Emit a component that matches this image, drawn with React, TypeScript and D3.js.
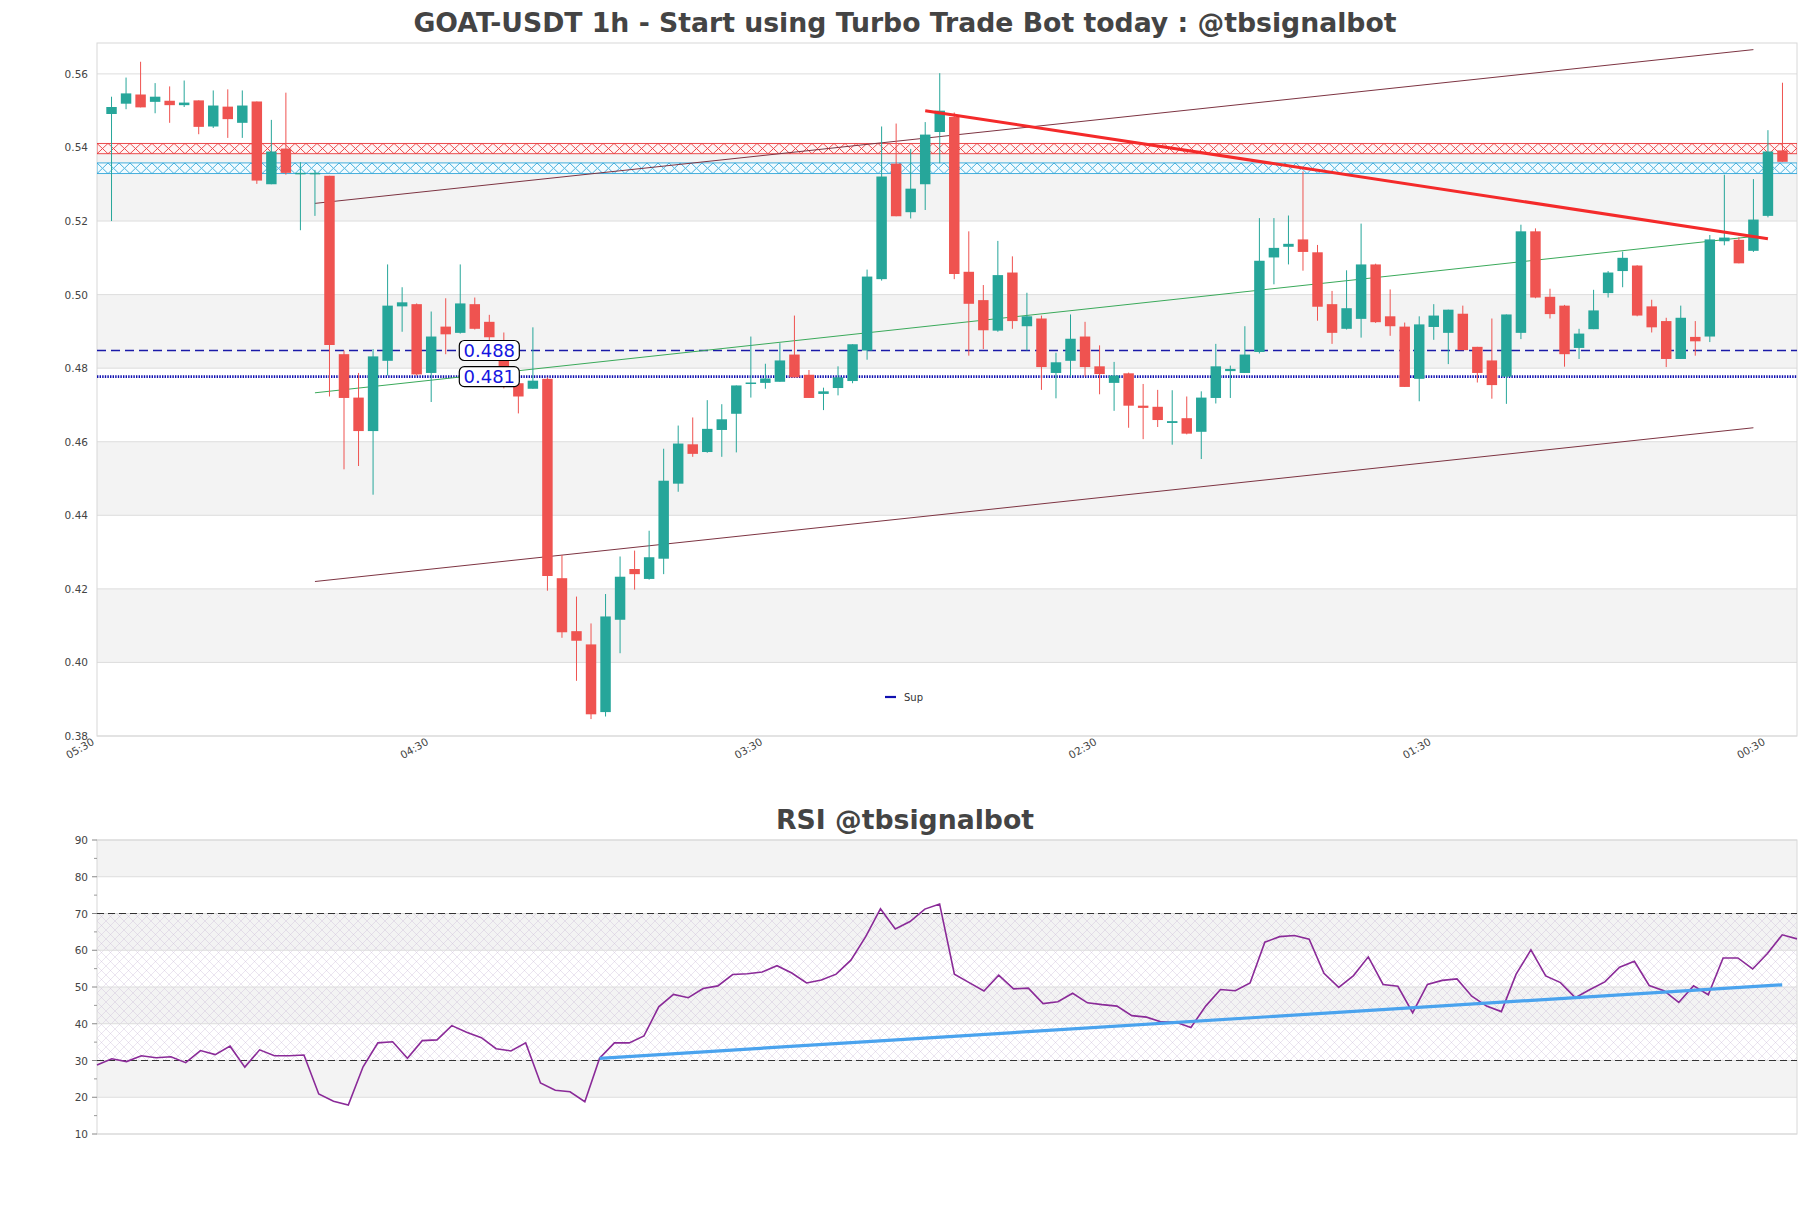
import React from "react";
import * as d3 from "d3";

const W = 1811;
const H = 1208;

const candleOpen = [0.5491,0.5519,0.5544,0.5524,0.5527,0.5515,0.5528,0.5457,0.5511,0.5467,0.5525,0.5300,0.5397,0.5328,0.5329,0.5323,0.4838,0.4720,0.4629,0.4820,0.4968,0.4974,0.4787,0.4913,0.4896,0.4974,0.4926,0.4850,0.4759,0.4744,0.4771,0.4229,0.4085,0.4049,0.3865,0.4116,0.4254,0.4227,0.4282,0.4486,0.4593,0.4572,0.4632,0.4676,0.4757,0.4760,0.4763,0.4837,0.4782,0.4730,0.4746,0.4765,0.4848,0.5042,0.5356,0.5224,0.5300,0.5442,0.5483,0.5062,0.4985,0.4902,0.5060,0.4914,0.4935,0.4787,0.4820,0.4886,0.4805,0.4760,0.4786,0.4698,0.4695,0.4651,0.4664,0.4627,0.4719,0.4792,0.4787,0.4844,0.5101,0.5130,0.5150,0.5115,0.4974,0.4907,0.4934,0.5082,0.4941,0.4913,0.4771,0.4912,0.4896,0.4948,0.4858,0.4821,0.4777,0.4896,0.5172,0.4994,0.4970,0.4855,0.4906,0.5004,0.5064,0.5079,0.4968,0.4928,0.4825,0.4885,0.4886,0.5145,0.5149,0.5119,0.5214,0.5392];
const candleHigh = [0.5538,0.5590,0.5633,0.5575,0.5566,0.5582,0.5528,0.5555,0.5558,0.5555,0.5525,0.5475,0.5549,0.5360,0.5339,0.5323,0.4848,0.4787,0.4852,0.5082,0.5020,0.4976,0.4954,0.4990,0.5082,0.4992,0.4945,0.4897,0.4768,0.4911,0.4775,0.4292,0.4179,0.4106,0.4186,0.4288,0.4304,0.4358,0.4581,0.4644,0.4666,0.4713,0.4702,0.4753,0.4886,0.4812,0.4868,0.4943,0.4795,0.4747,0.4805,0.4865,0.5068,0.5457,0.5465,0.5396,0.5469,0.5602,0.5495,0.5172,0.5026,0.5146,0.5104,0.5005,0.4943,0.4842,0.4946,0.4926,0.4862,0.4817,0.4788,0.4757,0.4741,0.4740,0.4723,0.4737,0.4866,0.4807,0.4914,0.5208,0.5208,0.5215,0.5335,0.5135,0.5010,0.5066,0.5193,0.5084,0.5014,0.4924,0.4941,0.4974,0.4959,0.4970,0.4858,0.4935,0.4946,0.5190,0.5180,0.5016,0.4972,0.4907,0.5013,0.5064,0.5117,0.5080,0.4986,0.4937,0.4970,0.4928,0.5162,0.5326,0.5156,0.5314,0.5447,0.5576];
const candleLow = [0.5200,0.5504,0.5509,0.5493,0.5467,0.5510,0.5436,0.5453,0.5426,0.5426,0.5301,0.5300,0.5326,0.5175,0.5214,0.4723,0.4525,0.4534,0.4456,0.4780,0.4899,0.4780,0.4708,0.4838,0.4894,0.4905,0.4875,0.4745,0.4677,0.4744,0.4195,0.4067,0.3950,0.3846,0.3853,0.4025,0.4198,0.4225,0.4240,0.4464,0.4559,0.4570,0.4559,0.4571,0.4720,0.4744,0.4763,0.4775,0.4719,0.4686,0.4726,0.4759,0.4823,0.5038,0.5213,0.5207,0.5230,0.5357,0.5042,0.4834,0.4852,0.4899,0.4907,0.4848,0.4741,0.4718,0.4777,0.4777,0.4729,0.4684,0.4638,0.4607,0.4640,0.4592,0.4620,0.4553,0.4704,0.4719,0.4787,0.4840,0.5028,0.5082,0.5065,0.4929,0.4866,0.4905,0.4883,0.4923,0.4888,0.4749,0.4710,0.4877,0.4811,0.4849,0.4761,0.4717,0.4703,0.4879,0.4990,0.4935,0.4804,0.4825,0.4906,0.4992,0.5020,0.4941,0.4897,0.4803,0.4825,0.4834,0.4871,0.5134,0.5085,0.5116,0.5210,0.5361];
const candleClose = [0.5510,0.5547,0.5509,0.5538,0.5515,0.5522,0.5456,0.5514,0.5477,0.5514,0.5310,0.5389,0.5331,0.5331,0.5331,0.4863,0.4719,0.4629,0.4832,0.4970,0.4979,0.4783,0.4886,0.4892,0.4976,0.4907,0.4884,0.4750,0.4723,0.4766,0.4235,0.4082,0.4059,0.3859,0.4125,0.4233,0.4240,0.4286,0.4494,0.4595,0.4567,0.4635,0.4661,0.4753,0.4761,0.4772,0.4821,0.4775,0.4719,0.4737,0.4775,0.4865,0.5049,0.5321,0.5213,0.5288,0.5435,0.5500,0.5056,0.4975,0.4903,0.5053,0.4928,0.4941,0.4803,0.4816,0.4880,0.4803,0.4784,0.4780,0.4698,0.4692,0.4659,0.4656,0.4622,0.4720,0.4805,0.4798,0.4837,0.5092,0.5127,0.5138,0.5116,0.4967,0.4896,0.4963,0.5082,0.4925,0.4914,0.4749,0.4919,0.4943,0.4959,0.4849,0.4787,0.4754,0.4946,0.5172,0.4992,0.4947,0.4838,0.4894,0.4957,0.5060,0.5100,0.4943,0.4911,0.4825,0.4937,0.4873,0.5150,0.5155,0.5085,0.5204,0.5389,0.5361];

const rsiValues = [28.75,30.47,29.7,31.3,30.75,31.0,29.4,32.7,31.6,33.9,28.2,32.9,31.3,31.3,31.5,20.9,18.9,17.9,28.3,34.8,35.1,30.6,35.4,35.6,39.5,37.7,36.2,33.2,32.6,34.8,23.9,21.9,21.5,18.8,30.6,34.8,34.8,36.7,44.6,48.0,
47.1,49.6,50.3,53.4,53.6,54.1,55.8,53.8,51.1,51.9,53.5,57.3,63.7,71.3,65.8,67.8,71.2,72.6,53.5,51.2,48.9,53.2,49.5,49.7,45.5,46.0,48.3,45.7,45.2,44.8,42.2,41.8,40.5,40.4,39.0,44.8,49.3,49.0,51.1,
62.2,63.7,64.0,63.0,53.7,49.9,53.1,58.2,50.7,50.2,43.0,50.7,51.8,52.2,47.5,44.8,43.3,53.5,60.1,53.0,51.2,47.1,49.3,51.4,55.4,57.0,50.4,49.0,45.8,50.3,47.9,57.9,57.9,54.9,59.1,64.2,63.1];

const xTickIndex = [-1, 22, 45, 68, 91, 114];
const xTickLabels = ["05:30", "04:30", "03:30", "02:30", "01:30", "00:30"];
const priceTicks = [0.38, 0.40, 0.42, 0.44, 0.46, 0.48, 0.50, 0.52, 0.54, 0.56];
const priceGreyBands = [[0.40, 0.42], [0.44, 0.46], [0.48, 0.50], [0.52, 0.54]];
const rsiTicks = [10, 20, 30, 40, 50, 60, 70, 80, 90];
const rsiMinorTicks = [15, 25, 35, 45, 55, 65, 75, 85];
const rsiGreyBands = [[20, 30], [40, 50], [60, 70], [80, 90]];

const resistanceZone = [0.5383, 0.5411];
const supportZone = [0.5329, 0.5358];
const dashedLevel = 0.4848;
const dashedLevelLabel = "0.488";
const dottedLevel = 0.4777;
const dottedLevelLabel = "0.481";
const levelLabelIndex = 26;

const channelUpperIdx = [14, 113];
const channelUpperVal = [0.5248, 0.5666];
const channelLowerIdx = [14, 113];
const channelLowerVal = [0.4220, 0.4638];
const greenTrendIdx = [14, 113];
const greenTrendVal = [0.4733, 0.5158];
const redTrendIdx = [56, 114];
const redTrendVal = [0.5500, 0.5152];
const rsiTrendIdx = [34, 114];
const rsiTrendVal = [30.6, 50.6];

const FONT = "DejaVu Sans, Verdana, sans-serif";

export default function App() {
  const PL = 97, PR = 1797, PT = 43, PB = 736;
  const RT = 840, RB = 1134;
  const x = d3.scaleLinear().domain([-1, 116]).range([PL, PR]);
  const y = d3.scaleLinear().domain([0.38, 0.5684]).range([PB, PT]);
  const xr = d3.scaleLinear().domain([0, 115]).range([PL, PR]);
  const yr = d3.scaleLinear().domain([10, 90]).range([RB, RT]);
  const step = x(1) - x(0);
  const bw = step * 0.72;

  const seg = (idx: number[], val: number[], sx: any, sy: any) =>
    d3.line<number>().x((_, k) => sx(idx[k])).y((v) => sy(v))(val) || "";

  const rsiPath = d3.line<number>().x((_, i) => xr(i)).y((v) => yr(v))(rsiValues) || "";

  const rzTop = y(resistanceZone[1]);
  const rzH = y(resistanceZone[0]) - rzTop;
  const szTop = y(supportZone[1]);
  const szH = y(supportZone[0]) - szTop;

  const labelX = x(levelLabelIndex);

  return (
    <svg width={W} height={H} style={{ position: "absolute", left: 0, top: 0, background: "#fff" }} fontFamily={FONT}>
      <defs>
        <pattern id="redX" patternUnits="userSpaceOnUse" x={PL} y={rzTop} width={11} height={rzH}>
          <path d={`M0,0 L11,${rzH} M11,0 L0,${rzH}`} stroke="#e8383a" strokeWidth={0.9} fill="none" />
        </pattern>
        <pattern id="blueX" patternUnits="userSpaceOnUse" x={PL} y={szTop} width={11} height={szH}>
          <path d={`M0,0 L11,${szH} M11,0 L0,${szH}`} stroke="#30a6d8" strokeWidth={0.9} fill="none" />
        </pattern>
        <pattern id="rsiHatch" patternUnits="userSpaceOnUse" x={PL} y={RT} width={9} height={9}>
          <path d="M0,0 L9,9 M9,0 L0,9" stroke="#c8b6d6" strokeWidth={0.6} fill="none" opacity={0.6} />
        </pattern>
        <clipPath id="mainClip">
          <rect x={PL} y={PT} width={PR - PL} height={PB - PT} />
        </clipPath>
      </defs>

      {/* Titles */}
      <text x={905} y={32} textAnchor="middle" fontSize={26.7} fontWeight="bold" fill="#444">
        GOAT-USDT 1h - Start using Turbo Trade Bot today : @tbsignalbot
      </text>
      <text x={905} y={829} textAnchor="middle" fontSize={26.7} fontWeight="bold" fill="#444">
        RSI @tbsignalbot
      </text>

      {/* Main panel background */}
      {priceGreyBands.map((b, k) => (
        <rect key={"gb" + k} x={PL} y={y(b[1])} width={PR - PL} height={y(b[0]) - y(b[1])} fill="#f3f3f3" />
      ))}
      {priceTicks.map((t) => (
        <line key={"pg" + t} x1={PL} x2={PR} y1={y(t)} y2={y(t)} stroke="#dddddd" strokeWidth={1} />
      ))}
      <rect x={PL} y={PT} width={PR - PL} height={PB - PT} fill="none" stroke="#d8d8d8" strokeWidth={1} />
      {priceTicks.map((t) => (
        <text key={"pt" + t} x={88} y={y(t) + 4} textAnchor="end" fontSize={10.5} fill="#444">
          {t.toFixed(2)}
        </text>
      ))}
      {xTickIndex.map((ti, k) => (
        <text key={"xt" + k} transform={`translate(${x(ti) - 2},${PB + 8}) rotate(-30)`} textAnchor="end" fontSize={10.5} fill="#444">
          {xTickLabels[k]}
        </text>
      ))}

      <g clipPath="url(#mainClip)">
        {/* Zones */}
        <rect x={PL} y={rzTop} width={PR - PL} height={rzH} fill="#fff4f4" />
        <rect x={PL} y={rzTop} width={PR - PL} height={rzH} fill="url(#redX)" stroke="#e8383a" strokeWidth={0.9} />
        <rect x={PL} y={szTop} width={PR - PL} height={szH} fill="#f2fbff" />
        <rect x={PL} y={szTop} width={PR - PL} height={szH} fill="url(#blueX)" stroke="#30a6d8" strokeWidth={0.9} />

        {/* Level lines */}
        <line x1={PL} x2={PR} y1={y(dashedLevel)} y2={y(dashedLevel)} stroke="#1a1aa8" strokeWidth={1.4} strokeDasharray="9 5" />
        <line x1={PL} x2={PR} y1={y(dottedLevel)} y2={y(dottedLevel)} stroke="#1010b0" strokeWidth={2.6} strokeDasharray="1.4 1.2" />

        {/* Channel and trend lines */}
        <path d={seg(channelUpperIdx, channelUpperVal, x, y)} stroke="#7d3442" strokeWidth={1} fill="none" />
        <path d={seg(channelLowerIdx, channelLowerVal, x, y)} stroke="#7d3442" strokeWidth={1} fill="none" />
        <path d={seg(greenTrendIdx, greenTrendVal, x, y)} stroke="#3aa95a" strokeWidth={1} fill="none" />

        {/* Candles */}
        {candleOpen.map((o, i) => {
          const c = candleClose[i];
          const up = c >= o;
          const col = up ? "#26a69a" : "#ef5350";
          const cx = x(i);
          const top = y(Math.max(o, c));
          const bot = y(Math.min(o, c));
          return (
            <g key={"c" + i}>
              <line x1={cx} x2={cx} y1={y(candleHigh[i])} y2={y(candleLow[i])} stroke={col} strokeWidth={1} />
              <rect x={cx - bw / 2} y={top} width={bw} height={Math.max(bot - top, 1.5)} fill={col} />
            </g>
          );
        })}

        <path d={seg(redTrendIdx, redTrendVal, x, y)} stroke="#f42a2a" strokeWidth={3} fill="none" />

        {/* Level labels */}
        {[
          [dashedLevel, dashedLevelLabel],
          [dottedLevel, dottedLevelLabel],
        ].map(([lv, lb], k) => (
          <g key={"lbl" + k}>
            <rect x={labelX - 30} y={y(lv as number) - 10} width={60} height={20} rx={5} fill="#fff" stroke="#000" strokeWidth={1.2} />
            <text x={labelX} y={y(lv as number) + 6.5} textAnchor="middle" fontSize={18} fill="#1515e0">
              {lb as string}
            </text>
          </g>
        ))}

        {/* Legend */}
        <line x1={885} x2={896} y1={697} y2={697} stroke="#1010b0" strokeWidth={2.2} />
        <text x={904} y={700.5} fontSize={10} fill="#333">Sup</text>
      </g>

      {/* RSI panel */}
      {rsiGreyBands.map((b, k) => (
        <rect key={"rb" + k} x={PL} y={yr(b[1])} width={PR - PL} height={yr(b[0]) - yr(b[1])} fill="#f3f3f3" />
      ))}
      <rect x={PL} y={yr(70)} width={PR - PL} height={yr(30) - yr(70)} fill="url(#rsiHatch)" />
      {rsiTicks.map((t) => (
        <line key={"rg" + t} x1={PL} x2={PR} y1={yr(t)} y2={yr(t)} stroke="#dddddd" strokeWidth={1} />
      ))}
      <rect x={PL} y={RT} width={PR - PL} height={RB - RT} fill="none" stroke="#d8d8d8" strokeWidth={1} />
      {rsiTicks.map((t) => (
        <g key={"rt" + t}>
          <line x1={PL - 5} x2={PL} y1={yr(t)} y2={yr(t)} stroke="#888" strokeWidth={1} />
          <text x={88} y={yr(t) + 4} textAnchor="end" fontSize={10.5} fill="#444">{t}</text>
        </g>
      ))}
      {rsiMinorTicks.map((t) => (
        <line key={"rm" + t} x1={PL - 3} x2={PL} y1={yr(t)} y2={yr(t)} stroke="#999" strokeWidth={1} />
      ))}
      <line x1={PL} x2={PR} y1={yr(70)} y2={yr(70)} stroke="#333" strokeWidth={1.2} strokeDasharray="7 4" />
      <line x1={PL} x2={PR} y1={yr(30)} y2={yr(30)} stroke="#333" strokeWidth={1.2} strokeDasharray="7 4" />
      <path d={rsiPath} stroke="#8a2a98" strokeWidth={1.6} fill="none" />
      <path d={seg(rsiTrendIdx, rsiTrendVal, xr, yr)} stroke="#4aa3ee" strokeWidth={3.2} fill="none" />
    </svg>
  );
}
